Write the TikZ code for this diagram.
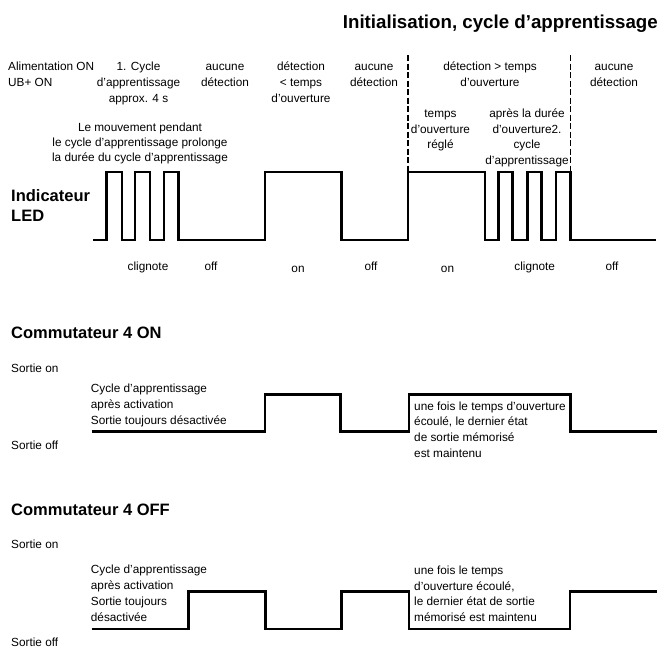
\documentclass[tikz,border=0pt]{standalone}
\usepackage{fontspec}
\setmainfont{Liberation Sans}
\newcommand\txtA{\fontsize{11.8}{16.3}\selectfont}
\newcommand\txtB{\fontsize{11.8}{15}\selectfont}
\newcommand\txtC{\fontsize{11.8}{15.8}\selectfont}
\newcommand\ttlA{\fontsize{18.7}{22}\selectfont\bfseries}
\newcommand\ttlB{\fontsize{16.5}{20.3}\selectfont\bfseries}
\begin{document}
\begin{tikzpicture}[x=1pt,y=-1pt,
  wave/.style={line width=2.6pt,line join=miter},
  dashline/.style={line width=1.1pt,dash pattern=on 6pt off 2.5pt},
  blk/.style={inner sep=0pt,anchor=north,align=center},
  blkl/.style={inner sep=0pt,anchor=north west,align=left},
  one/.style={inner sep=0pt,text height=8.4pt,text depth=0pt},
  onel/.style={one,anchor=west},
  ttl/.style={inner sep=0pt,text height=13.4pt,text depth=0pt}]
\useasboundingbox (0,0) rectangle (667,648);

% title
\node[ttl,anchor=east,font=\ttlA] (title) at (658,22) {Initialisation, cycle d’apprentissage};

% top column labels
\node[blkl,font=\txtA] (alim) at (8,58.7) {\strut Alimentation ON\\UB+ ON};
\node[blk,font=\txtA] (cyc1) at (138.5,58.7) {\strut 1. Cycle\\d’apprentissage\\approx. 4 s};
\node[blk,font=\txtA] (auc1) at (225,58.7) {\strut aucune\\détection};
\node[blk,font=\txtA] (detlt) at (301,58.7) {\strut détection\\< temps\\d’ouverture};
\node[blk,font=\txtA] (auc2) at (374,58.7) {\strut aucune\\détection};
\node[blk,font=\txtA] (detgt) at (490,58.7) {\strut détection > temps\\d’ouverture};
\node[blk,font=\txtA] (auc3) at (614,58.7) {\strut aucune\\détection};
\node[blk,font=\txtC] (reg) at (440.5,106.1) {\strut temps\\d’ouverture\\réglé};
\node[blk,font=\txtC] (apres) at (527,106.1) {\strut après la durée\\d’ouverture2.\\cycle\\d’apprentissage};
\node[blk,font=\txtB] (mouv) at (140,120.7) {\strut Le mouvement pendant\\le cycle d’apprentissage prolonge\\la durée du cycle d’apprentissage};

% dashed separators
\coordinate (d1t) at (408,55);
\coordinate (d1b) at (408,172);
\coordinate (d2t) at (570.5,55);
\coordinate (d2b) at (570.5,172);
\draw[dashline] (d1t) -- (d1b);
\draw[dashline] (d2t) -- (d2b);

% LED label
\node[blkl,font=\ttlB] (led) at (11,187.2) {\strut Indicateur\\LED};

% LED waveform
\draw[wave] (93,240) -- (106.7,240) -- (106.7,172) -- (122,172) -- (122,240)
  -- (135,240) -- (135,172) -- (150,172) -- (150,240)
  -- (164,240) -- (164,172) -- (178.3,172) -- (178.3,240)
  -- (265,240) -- (265,172) -- (341.5,172) -- (341.5,240)
  -- (408,240) -- (408,172) -- (485,172) -- (485,240)
  -- (498.5,240) -- (498.5,172) -- (512.7,172) -- (512.7,240)
  -- (527.3,240) -- (527.3,172) -- (541.7,172) -- (541.7,240)
  -- (556,240) -- (556,172) -- (570.5,172) -- (570.5,240) -- (656,240);

% LED states
\node[one,font=\txtA] (s1) at (148,266) {clignote};
\node[one,font=\txtA] (s2) at (211,266) {off};
\node[one,font=\txtA] (s3) at (298,268) {on};
\node[one,font=\txtA] (s4) at (371,266) {off};
\node[one,font=\txtA] (s5) at (447.5,268) {on};
\node[one,font=\txtA] (s6) at (534.7,266) {clignote};
\node[one,font=\txtA] (s7) at (612,266) {off};

% Commutateur 4 ON
\node[ttl,anchor=west,font=\ttlB,text height=11.8pt] (c4on) at (11,332.7) {Commutateur 4 ON};
\node[onel,font=\txtA] (on1) at (11,368) {Sortie on};
\node[onel,font=\txtA] (off1) at (11,445) {Sortie off};
\node[blkl,font=\txtA] (cyA) at (90.7,380.6) {\strut Cycle d’apprentissage\\après activation\\Sortie toujours désactivée};
\node[blkl,font=\txtC] (unA) at (414,398.9) {\strut une fois le temps d’ouverture\\écoulé, le dernier état\\de sortie mémorisé\\est maintenu};
\draw[wave] (91.7,431.7) -- (265,431.7) -- (265,394.3) -- (340.5,394.3) -- (340.5,431.7)
  -- (409,431.7) -- (409,394.3) -- (570.7,394.3) -- (570.7,431.7) -- (656.7,431.7);

% Commutateur 4 OFF
\node[ttl,anchor=west,font=\ttlB,text height=11.8pt] (c4off) at (11,509.3) {Commutateur 4 OFF};
\node[onel,font=\txtA] (on2) at (11,544) {Sortie on};
\node[onel,font=\txtA] (off2) at (11,642.2) {Sortie off};
\node[blkl,font=\txtC] (cyB) at (90.7,562.4) {\strut Cycle d’apprentissage\\après activation\\Sortie toujours\\désactivée};
\node[blkl,font=\txtC] (unB) at (414,563.1) {\strut une fois le temps\\d’ouverture écoulé,\\le dernier état de sortie\\mémorisé est maintenu};
\draw[wave] (91.7,629) -- (188.3,629) -- (188.3,591.7) -- (265.7,591.7) -- (265.7,629)
  -- (341.7,629) -- (341.7,591.7) -- (409,591.7) -- (409,629) -- (570,629)
  -- (570,591.7) -- (656.7,591.7);
\end{tikzpicture}
\end{document}
